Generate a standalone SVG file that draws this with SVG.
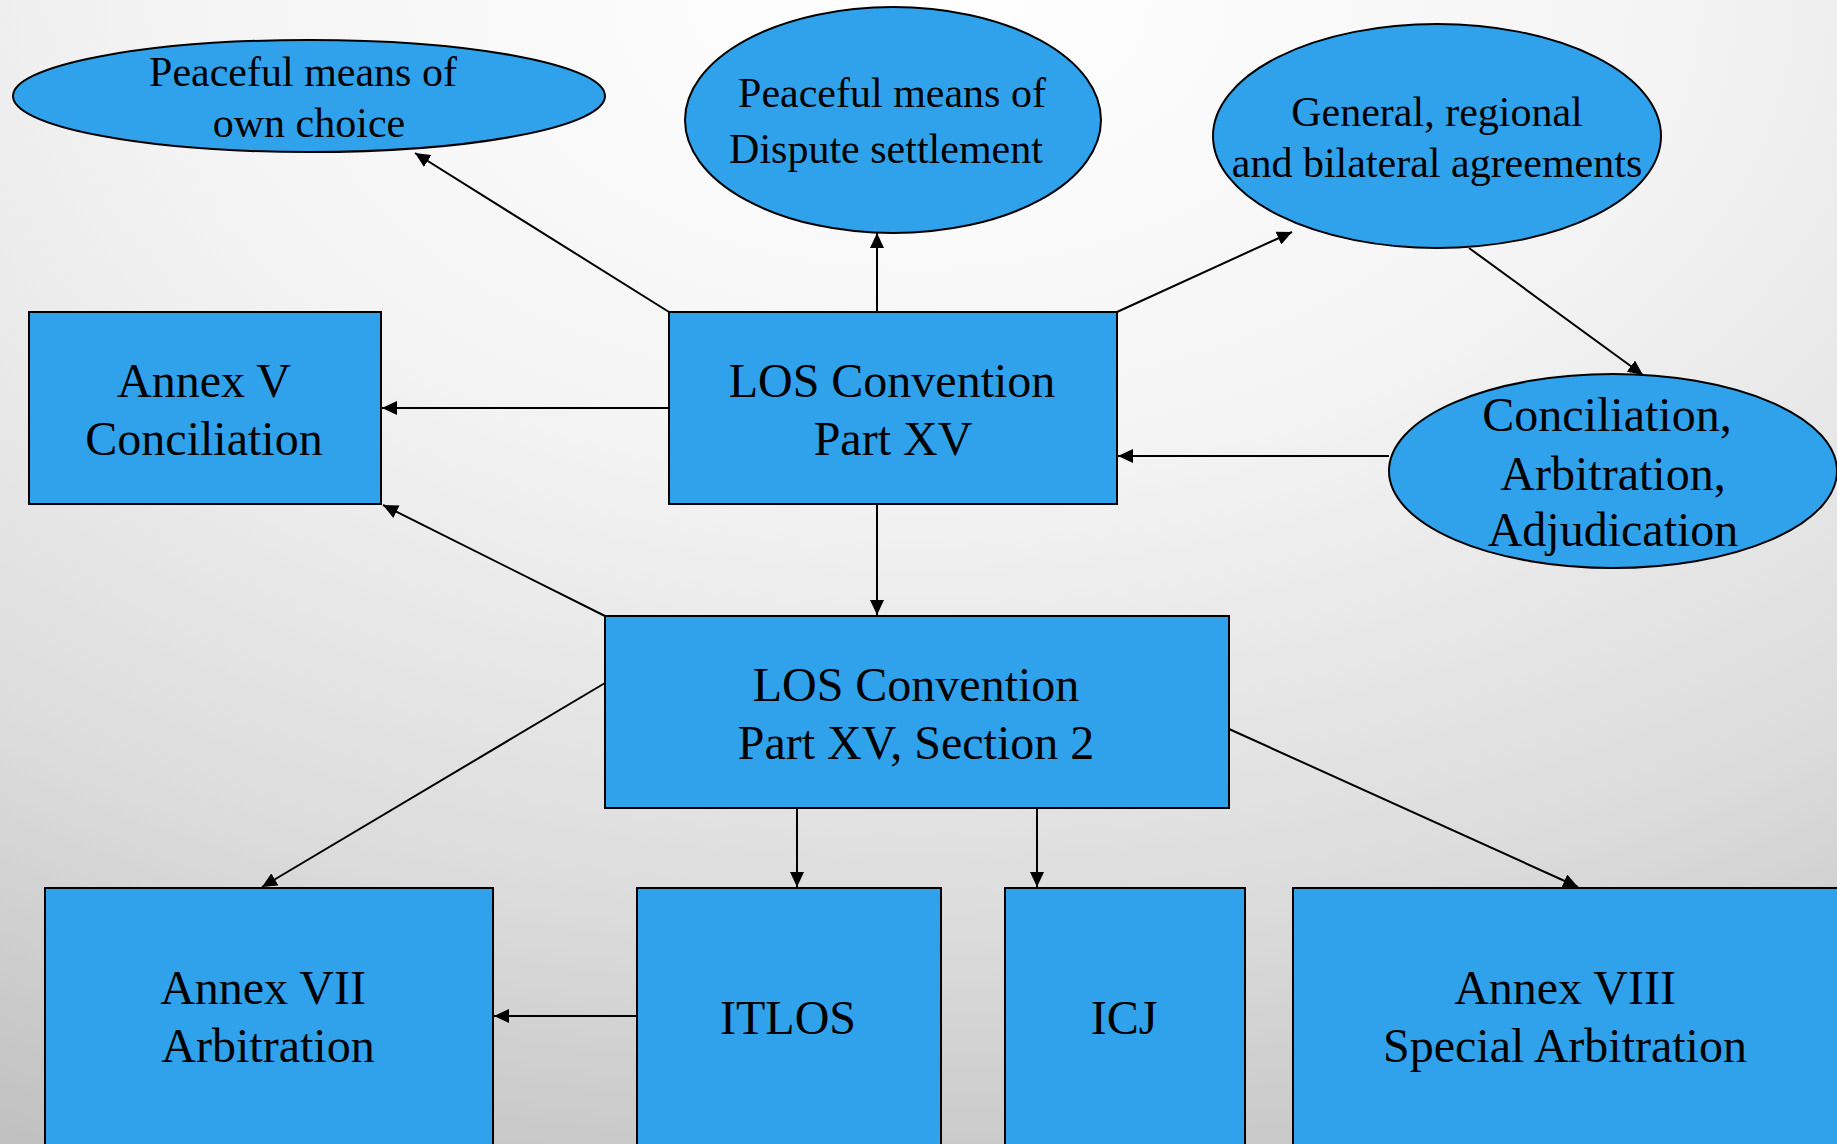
<svg xmlns="http://www.w3.org/2000/svg" width="1837" height="1144" viewBox="0 0 1837 1144">
  <defs>
    <radialGradient id="bg" cx="50%" cy="0%" r="115%" fx="50%" fy="0%">
      <stop offset="0" stop-color="#ffffff"/>
      <stop offset="0.35" stop-color="#f4f4f4"/>
      <stop offset="0.7" stop-color="#dcdcdc"/>
      <stop offset="1" stop-color="#bdbdbd"/>
    </radialGradient>
    <marker id="arrow" markerUnits="userSpaceOnUse" markerWidth="16" markerHeight="14" refX="15" refY="7" orient="auto">
      <path d="M0,0 L15,7 L0,14 z" fill="#000"/>
    </marker>
    <style>
      .node { fill: #30A2EB; stroke: #000; stroke-width: 2; }
      .edge { stroke: #000; stroke-width: 2; fill: none; marker-end: url(#arrow); }
      text { font-family: "Liberation Serif", "Times New Roman", serif; fill: #000; text-anchor: middle; }
      .t48 { font-size: 48px; }
      .t42 { font-size: 42px; }
    </style>
  </defs>

  <rect x="0" y="0" width="1837" height="1144" fill="url(#bg)"/>

  <g id="connectors">
    <line class="edge" x1="669" y1="312" x2="415" y2="153"/>
    <line class="edge" x1="877" y1="312" x2="877" y2="233"/>
    <line class="edge" x1="1117" y1="312" x2="1292" y2="232"/>
    <line class="edge" x1="1469" y1="248" x2="1643" y2="375"/>
    <line class="edge" x1="1389" y1="456" x2="1118" y2="456"/>
    <line class="edge" x1="669" y1="408" x2="382" y2="408"/>
    <line class="edge" x1="877" y1="504" x2="877" y2="615"/>
    <line class="edge" x1="605" y1="616" x2="383" y2="505"/>
    <line class="edge" x1="605" y1="683" x2="262" y2="887"/>
    <line class="edge" x1="797" y1="807" x2="797" y2="887"/>
    <line class="edge" x1="1037" y1="807" x2="1037" y2="887"/>
    <line class="edge" x1="1229" y1="729" x2="1578" y2="887"/>
    <line class="edge" x1="637" y1="1016" x2="494" y2="1016"/>
  </g>

  <g id="own-choice">
    <ellipse class="node" cx="309" cy="96" rx="296" ry="56"/>
    <text class="t42" x="303" y="86">Peaceful means of</text>
    <text class="t42" x="309" y="137">own choice</text>
  </g>

  <g id="dispute-settlement">
    <ellipse class="node" cx="893" cy="120" rx="208" ry="113"/>
    <text class="t42" x="892" y="107">Peaceful means of</text>
    <text class="t42" x="886" y="163">Dispute settlement</text>
  </g>

  <g id="agreements">
    <ellipse class="node" cx="1437" cy="136" rx="224" ry="112"/>
    <text class="t42" x="1437" y="126">General, regional</text>
    <text class="t42" x="1437" y="177">and bilateral agreements</text>
  </g>

  <g id="conciliation-arbitration-adjudication">
    <ellipse class="node" cx="1613" cy="471" rx="224" ry="97"/>
    <text class="t48" x="1607" y="431">Conciliation,</text>
    <text class="t48" x="1613" y="490">Arbitration,</text>
    <text class="t48" x="1613" y="546">Adjudication</text>
  </g>

  <g id="annex-v">
    <rect class="node" x="29" y="312" width="352" height="192"/>
    <text class="t48" x="204" y="397">Annex V</text>
    <text class="t48" x="204" y="455">Conciliation</text>
  </g>

  <g id="part-xv">
    <rect class="node" x="669" y="312" width="448" height="192"/>
    <text class="t48" x="892" y="397">LOS Convention</text>
    <text class="t48" x="893" y="455">Part XV</text>
  </g>

  <g id="section-2">
    <rect class="node" x="605" y="616" width="624" height="192"/>
    <text class="t48" x="916" y="701">LOS Convention</text>
    <text class="t48" x="916" y="759">Part XV, Section 2</text>
  </g>

  <g id="annex-vii">
    <rect class="node" x="45" y="888" width="448" height="270"/>
    <text class="t48" x="263" y="1004">Annex VII</text>
    <text class="t48" x="268" y="1062">Arbitration</text>
  </g>

  <g id="itlos">
    <rect class="node" x="637" y="888" width="304" height="270"/>
    <text class="t48" x="788" y="1034">ITLOS</text>
  </g>

  <g id="icj">
    <rect class="node" x="1005" y="888" width="240" height="270"/>
    <text class="t48" x="1124" y="1034">ICJ</text>
  </g>

  <g id="annex-viii">
    <rect class="node" x="1293" y="888" width="560" height="270"/>
    <text class="t48" x="1565" y="1004">Annex VIII</text>
    <text class="t48" x="1565" y="1062">Special Arbitration</text>
  </g>
</svg>
